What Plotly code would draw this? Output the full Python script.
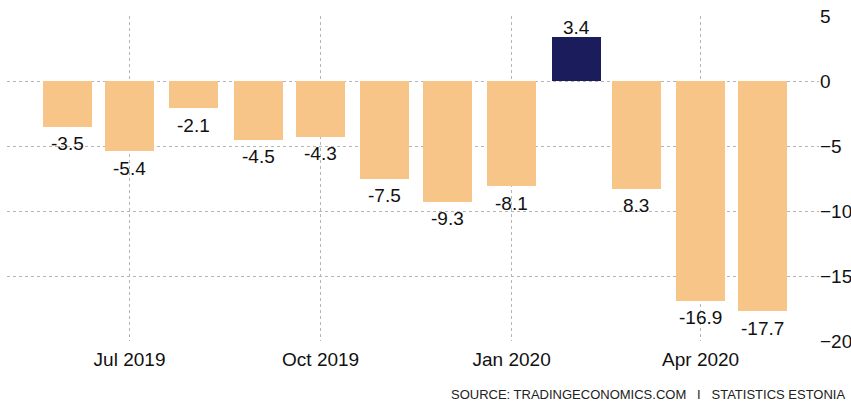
import plotly.graph_objects as go

months = ["2019-06-01", "2019-07-01", "2019-08-01", "2019-09-01", "2019-10-01", "2019-11-01",
          "2019-12-01", "2020-01-01", "2020-02-01", "2020-03-01", "2020-04-01", "2020-05-01"]
values = [-3.5, -5.4, -2.1, -4.5, -4.3, -7.5, -9.3, -8.1, 3.4, -8.3, -16.9, -17.7]
labels = ["-3.5", "-5.4", "-2.1", "-4.5", "-4.3", "-7.5", "-9.3", "-8.1", "3.4", "8.3", "-16.9", "-17.7"]
tick_dates = ["2019-07-01", "2019-10-01", "2020-01-01", "2020-04-01"]
tick_text = ["Jul 2019", "Oct 2019", "Jan 2020", "Apr 2020"]
y_ticks = [5, 0, -5, -10, -15, -20]

PEACH = "#F8C589"
NAVY = "#1A1C5C"
colors = [NAVY if v > 0 else PEACH for v in values]

DAY_MS = 86400000
fig = go.Figure()
fig.add_trace(go.Bar(
    x=months, y=values, marker=dict(color=colors, line=dict(width=0)),
    width=[23.6 * DAY_MS] * len(values), hoverinfo="skip",
))

for m, v, t in zip(months, values, labels):
    fig.add_annotation(
        x=m, y=v, xref="x", yref="y", text=t, showarrow=False,
        yanchor="middle", yshift=(9 if v > 0 else -17),
        font=dict(family="Liberation Sans, Arial, sans-serif", size=19, color="#111111"),
    )

fig.add_annotation(
    x=1.0, y=-0.165, xref="paper", yref="paper", xanchor="right", yanchor="middle",
    xshift=28,
    text="SOURCE: TRADINGECONOMICS.COM   I   STATISTICS ESTONIA",
    showarrow=False,
    font=dict(family="Liberation Sans, Arial, sans-serif", size=13, color="#222222"),
)

fig.update_layout(
    width=851, height=404,
    margin=dict(l=7, r=32, t=16, b=63, autoexpand=False),
    paper_bgcolor="white", plot_bgcolor="white",
    showlegend=False, bargap=0,
    font=dict(family="Liberation Sans, Arial, sans-serif", size=19, color="#111111"),
    xaxis=dict(
        type="date", range=["2019-05-03", "2020-05-28"],
        tickvals=tick_dates, ticktext=tick_text, automargin=False,
        showgrid=True, gridcolor="#b5b5b5", griddash="dot", gridwidth=1,
        zeroline=False, showline=False,
        ticks="outside", ticklen=1, tickcolor="rgba(0,0,0,0)",
        tickfont=dict(size=19),
    ),
    yaxis=dict(
        range=[-20, 5], tickvals=y_ticks, side="right", automargin=False,
        showgrid=True, gridcolor="#b5b5b5", griddash="dot", gridwidth=1,
        zeroline=False, showline=False, ticks="", tickfont=dict(size=19),
    ),
)

fig.write_html("out.html")
